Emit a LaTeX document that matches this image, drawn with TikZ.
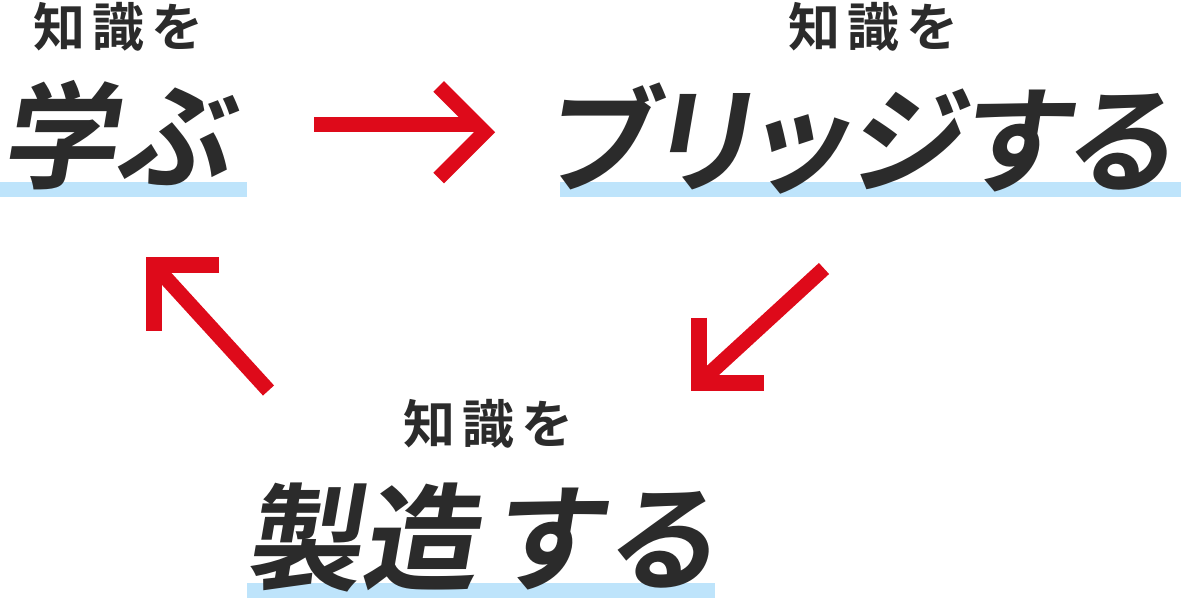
\documentclass[tikz,border=0pt]{standalone}
\usepackage{fontspec}
\newfontfamily\jpbig{Noto Sans CJK JP Bold}[FakeSlant=0.17, RawFeature=+palt]
\newfontfamily\jpsmall{Noto Sans CJK JP Bold}
\definecolor{ink}{HTML}{2B2B2B}
\definecolor{rd}{HTML}{DE0A1A}
\definecolor{ublue}{HTML}{BEE4FB}
\begin{document}
\begin{tikzpicture}[x=1pt,y=-1pt,
  big/.style={inner sep=0, text=ink, font=\jpbig\fontsize{116}{116}\selectfont, anchor=base west},
  small/.style={inner sep=0, text=ink, font=\jpsmall\fontsize{52}{52}\selectfont, anchor=base west},
  uline/.style={fill=ublue},
  redline/.style={draw=rd, line width=15pt, line join=miter}]
\useasboundingbox (0,0) rectangle (1181,601);
% underlines
\fill[uline] (0,182) rectangle (247,197);
\fill[uline] (560,182) rectangle (1181,197);
\fill[uline] (247,583) rectangle (715,598);
% texts
\node[small] (s1) at (33,47) {知\hspace{7pt}識\hspace{7pt}を};
\node[small] (s2) at (788,47) {知\hspace{7pt}識\hspace{7pt}を};
\node[small] (s3) at (403,443) {知\hspace{7pt}識\hspace{7pt}を};
\node[big] (b1) at (0,180) {学ぶ};
\node[big] (b2) at (542,184) {ブリッジする};
\node[big] (b3) at (244,581) {製造\kern17pt す\kern8pt る};
% arrow right
\coordinate (r1) at (314,124.5);
\coordinate (r2) at (476,124.5);
\draw[redline] (r1) -- (r2);
\draw[redline] (438.7,86.5) -- (484.5,132.25) -- (438.7,178);
% arrow up-left
\draw[redline, line width=16pt] (219,265) -- (154,265) -- (154,331);
\draw[redline] (268.5,390.5) -- (154,265);
% arrow down-left
\draw[redline, line width=16pt] (698.7,317.7) -- (698.7,383.5) -- (764,383.5);
\draw[redline] (824,268.5) -- (698.7,383.5);
\end{tikzpicture}
\end{document}
